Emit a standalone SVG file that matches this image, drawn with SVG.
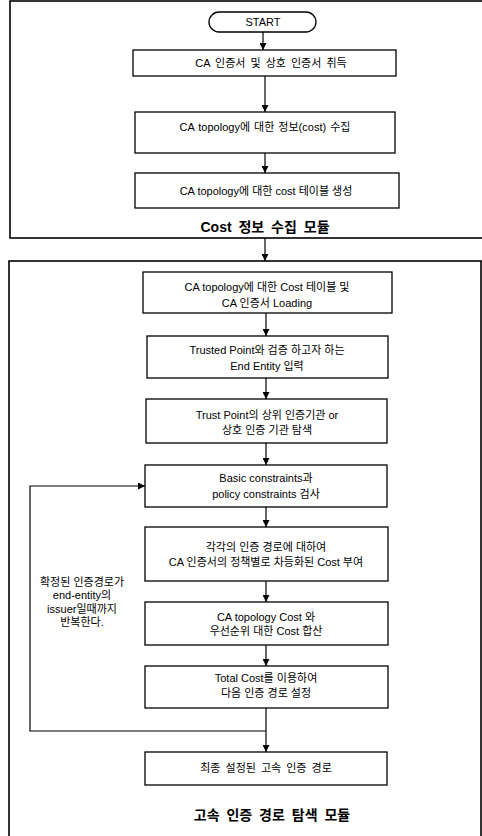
<svg xmlns="http://www.w3.org/2000/svg" width="482" height="836" viewBox="0 0 482 836">
<defs>
<style>
.bx{fill:#fff;stroke:#000;stroke-width:1.3}
.outer{fill:none;stroke:#000;stroke-width:1.6}
.t{font-family:"Liberation Sans","Noto Sans CJK KR",sans-serif;font-size:11px;fill:#000;text-anchor:middle}
.lab{font-family:"Liberation Sans","Noto Sans CJK KR",sans-serif;font-size:14px;font-weight:bold;fill:#000;text-anchor:middle;word-spacing:3px}
.fb{font-family:"Liberation Sans","Noto Sans CJK KR",sans-serif;font-size:11px;fill:#000;text-anchor:middle}
.ln{fill:none;stroke:#000;stroke-width:1.2}
</style>
<marker id="ah" viewBox="0 0 10 10" refX="10" refY="5" markerWidth="7" markerHeight="7" markerUnits="userSpaceOnUse" orient="auto">
<path d="M0,0 L10,5 L0,10 z" fill="#000"/>
</marker>
</defs>

<g id="module1">
<rect class="outer" x="10" y="1" width="473" height="237"/>
<text class="lab" x="265" y="232">Cost  정보 수집 모듈</text>
</g>
<g id="module2">
<rect class="outer" x="9" y="261" width="472" height="580"/>
<text class="lab" x="272" y="820">고속 인증 경로 탐색 모듈</text>
</g>

<g id="start">
<rect class="bx" x="209" y="12" width="107" height="20" rx="10" ry="10"/>
<text class="t" x="263" y="26">START</text>
</g>
<g id="n1">
<rect class="bx" x="133" y="50" width="263" height="26"/>
<text class="t" x="271" y="67" style="word-spacing:2px">CA  인증서  및  상호  인증서  취득</text>
</g>
<g id="n2">
<rect class="bx" x="135" y="112" width="260" height="41"/>
<text class="t" x="265" y="131" style="word-spacing:1px">CA  topology에  대한  정보(cost)  수집</text>
</g>
<g id="n3">
<rect class="bx" x="135" y="173" width="264" height="35"/>
<text class="t" x="266" y="195">CA topology에 대한 cost 테이블 생성</text>
</g>
<g id="n4">
<rect class="bx" x="143" y="272" width="249" height="41"/>
<text class="t" x="267" y="291">CA topology에 대한 Cost  테이블  및</text>
<text class="t" x="267" y="307">CA 인증서 Loading</text>
</g>
<g id="n5">
<rect class="bx" x="147" y="336" width="241" height="42"/>
<text class="t" x="267" y="354">Trusted Point와 검증 하고자 하는</text>
<text class="t" x="267" y="370">End Entity  입력</text>
</g>
<g id="n6">
<rect class="bx" x="146" y="399" width="241" height="44"/>
<text class="t" x="267" y="419">Trust Point의 상위 인증기관 or</text>
<text class="t" x="267" y="434">상호 인증 기관 탐색</text>
</g>
<g id="n7">
<rect class="bx" x="145" y="465" width="242" height="42"/>
<text class="t" x="266" y="482">Basic constraints과</text>
<text class="t" x="266" y="498">policy constraints 검사</text>
</g>
<g id="n8">
<rect class="bx" x="145" y="527" width="243" height="54"/>
<text class="t" x="266" y="551">각각의 인증 경로에 대하여</text>
<text class="t" x="266" y="566">CA 인증서의 정책별로 차등화된 Cost 부여</text>
</g>
<g id="n9">
<rect class="bx" x="145" y="602" width="243" height="43"/>
<text class="t" x="266" y="621">CA topology Cost 와</text>
<text class="t" x="266" y="635">우선순위 대한 Cost  합산</text>
</g>
<g id="n10">
<rect class="bx" x="145" y="666" width="243" height="42"/>
<text class="t" x="266" y="682">Total Cost를 이용하여</text>
<text class="t" x="266" y="697">다음 인증 경로  설정</text>
</g>
<g id="n11">
<rect class="bx" x="145" y="752" width="242" height="33"/>
<text class="t" x="266" y="772" style="word-spacing:2px">최종 설정된 고속 인증 경로</text>
</g>

<g id="feedback-label">
<text class="fb" x="82" y="586">확정된 인증경로가</text>
<text class="fb" x="82" y="599">end-entity의</text>
<text class="fb" x="82" y="613">issuer일때까지</text>
<text class="fb" x="82" y="626">반복한다.</text>
</g>

<g id="connectors">
<line class="ln" x1="263" y1="32" x2="263" y2="50" marker-end="url(#ah)"/>
<line class="ln" x1="265" y1="76" x2="265" y2="112" marker-end="url(#ah)"/>
<line class="ln" x1="265" y1="153" x2="265" y2="173" marker-end="url(#ah)"/>
<line class="ln" x1="265" y1="238" x2="265" y2="261" marker-end="url(#ah)"/>
<line class="ln" x1="266" y1="313" x2="266" y2="336" marker-end="url(#ah)"/>
<line class="ln" x1="266" y1="378" x2="266" y2="399" marker-end="url(#ah)"/>
<line class="ln" x1="266" y1="443" x2="266" y2="465" marker-end="url(#ah)"/>
<line class="ln" x1="266" y1="507" x2="266" y2="527" marker-end="url(#ah)"/>
<line class="ln" x1="266" y1="581" x2="266" y2="602" marker-end="url(#ah)"/>
<line class="ln" x1="266" y1="645" x2="266" y2="666" marker-end="url(#ah)"/>
<line class="ln" x1="266" y1="708" x2="266" y2="752" marker-end="url(#ah)"/>
<polyline class="ln" points="266,731 30,731 30,486 145,486" marker-end="url(#ah)"/>
</g>
</svg>
